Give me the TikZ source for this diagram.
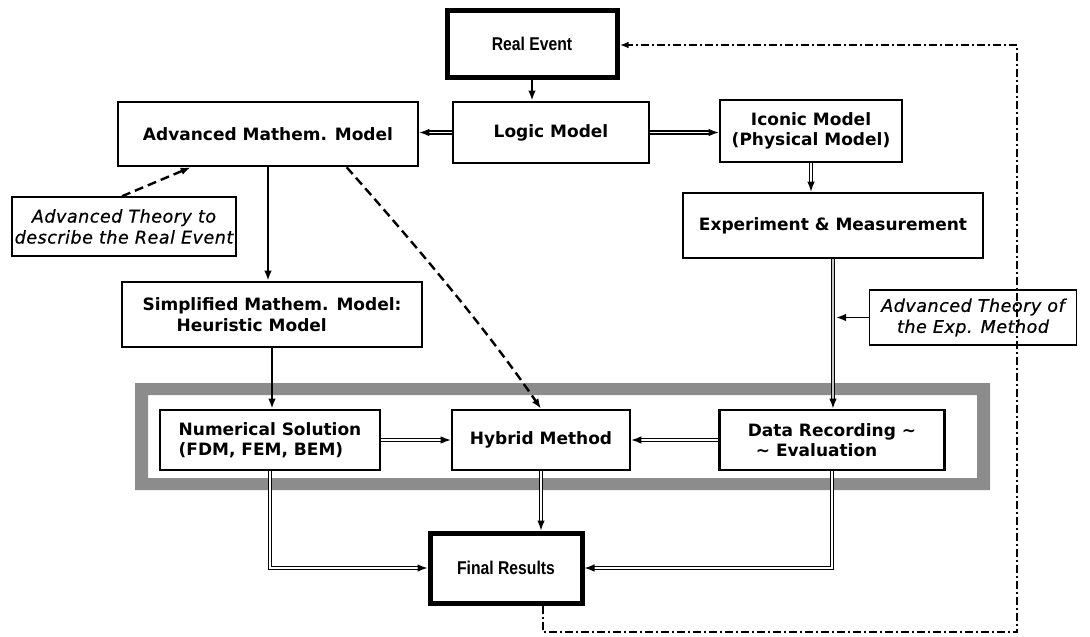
\documentclass[tikz,border=0pt]{standalone}
\usepackage{fontspec}
\setmainfont{DejaVu Sans}
\newfontfamily\boxfont{DejaVu Sans}
\newfontfamily\condfont{Liberation Sans}[FakeStretch=0.85]
\newfontfamily\notefont{DejaVu Sans}[LetterSpace=3,FakeBold=0.6]
\usetikzlibrary{arrows.meta,calc}

\tikzset{
  box/.style={draw, line width=2.6pt, inner sep=0pt, align=center,
    font=\boxfont\bfseries\fontsize{17}{20.5}\selectfont},
  bigbox/.style={draw, line width=5pt, inner sep=0pt, align=center,
    font=\condfont\bfseries\fontsize{18.5}{21}\selectfont},
  notebox/.style={draw, line width=1.5pt, inner sep=0pt, align=center,
    font=\notefont\itshape\fontsize{17.5}{21}\selectfont},
  tip/.style={-{Latex[length=10pt,width=7.5pt]}},
  solidarrow/.style={tip, line width=2.8pt},
  thinarrow/.style={tip, line width=1.7pt},
  doublearrow/.style={tip, double, line width=1.2pt, double distance=1.8pt},
  heavyarrow/.style={tip, double=gray!45, line width=1.8pt, double distance=1.3pt},
  dashedarrow/.style={tip, line width=2.4pt, dash pattern=on 9pt off 5pt},
  feedback/.style={-{Latex[length=9pt,width=6.5pt]}, line width=1.8pt,
    dash pattern=on 8pt off 3pt on 2pt off 3pt},
  band/.style={fill=black!45, even odd rule}
}

\begin{document}
\begin{tikzpicture}[x=1pt,y=-1pt]
\useasboundingbox (0,0) rectangle (1090,637);

% shaded frame round the solution methods
\fill[band] (135,383) rectangle (990,490) (148,395) rectangle (977,478);

% boxes
\node[bigbox, minimum width=170pt, minimum height=67pt] (real) at (532,43.5) {Real Event};
\node[box, minimum width=196pt, minimum height=61pt] (logic) at (551,132.5) {Logic Model};
\node[box, minimum width=300pt, minimum height=64pt] (adv) at (268,134) {Advanced Mathem. Model};
\node[box, minimum width=182pt, minimum height=62pt] (iconic) at (811,131) {Iconic Model\\(Physical Model)};
\node[box, minimum width=300pt, minimum height=65pt] (exper) at (833,225.5) {Experiment \& Measurement};
\node[notebox, minimum width=224pt, minimum height=59pt] (theoryA) at (124,226.5) {Advanced Theory to\\describe the Real Event};
\node[box, align=left, minimum width=300pt, minimum height=65pt] (simpl) at (272,314.5) {Simplified Mathem. Model:\\\hspace*{34pt}Heuristic Model};
\node[notebox, minimum width=207pt, minimum height=55pt] (theoryB) at (973,317.5) {Advanced Theory of\\the Exp. Method};
\node[box, align=left, minimum width=220pt, minimum height=60pt] (numer) at (270,440) {Numerical Solution\\(FDM, FEM, BEM)};
\node[box, minimum width=178pt, minimum height=60pt] (hybrid) at (541,440) {Hybrid Method};
\node[box, align=left, minimum width=225pt, minimum height=60pt] (data) at (832,440) {Data Recording \textasciitilde\\\hspace*{8pt}\textasciitilde{} Evaluation};
\node[bigbox, minimum width=152pt, minimum height=70pt] (final) at (506,568) {Final Results};

% feedback corners
\coordinate (fb1) at (543,632);
\coordinate (fb2) at (1017,632);
\coordinate (fb3) at (1017,45);
\coordinate (expjoin) at (exper.south |- theoryB.west);

% connectors
\draw[solidarrow] (real.south) -- (real.south |- logic.north);
\draw[doublearrow] (logic.west) -- (logic.west -| adv.east);
\draw[doublearrow] (logic.east) -- (logic.east -| iconic.west);
\draw[doublearrow] (iconic.south) -- (iconic.south |- exper.north);
\draw[solidarrow] (adv.south) -- (adv.south |- simpl.north);
\draw[dashedarrow] ([xshift=-2pt]theoryA.north) -- ([xshift=74pt]adv.south west);
\draw[dashedarrow] ([xshift=230pt]adv.south west) .. controls (420,250) and (487,330) .. (hybrid.north);
\draw[solidarrow] (simpl.south) -- (simpl.south |- numer.north);
\draw[heavyarrow] (exper.south) -- (exper.south |- data.north);
\draw[thinarrow, shorten >=3pt] (theoryB.west) -- (expjoin);
\draw[doublearrow] (numer.east) -- (numer.east -| hybrid.west);
\draw[doublearrow] (data.west) -- (data.west -| hybrid.east);
\draw[doublearrow] (numer.south) |- (final.west);
\draw[doublearrow] (hybrid.south) -- (hybrid.south |- final.north);
\draw[doublearrow] (data.south) |- (final.east);
\draw[feedback] (fb1 |- final.south) -- (fb1) -- (fb2) -- (fb3) -- (fb3 -| real.east);
\end{tikzpicture}
\end{document}
